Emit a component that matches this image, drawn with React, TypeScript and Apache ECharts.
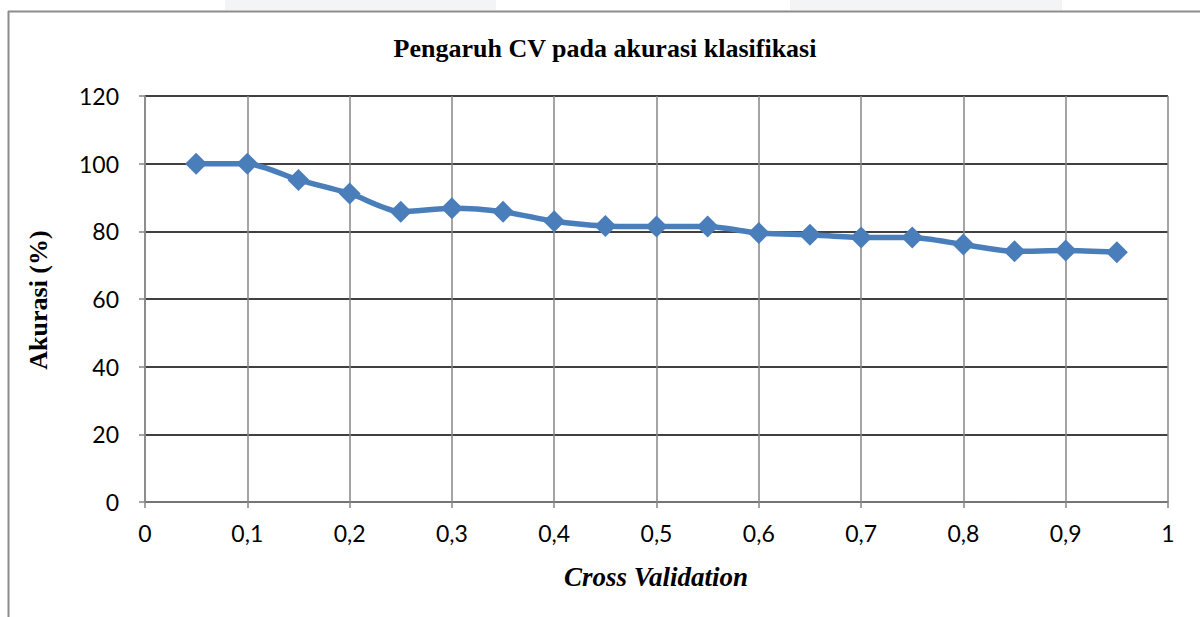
import React, { useEffect, useRef } from "react";
import * as echarts from "echarts";

const cvValues: number[] = [0.05, 0.1, 0.15, 0.2, 0.25, 0.3, 0.35, 0.4, 0.45, 0.5, 0.55, 0.6, 0.65, 0.7, 0.75, 0.8, 0.85, 0.9, 0.95];
const accuracy: number[] = [100, 100, 95.2, 91.2, 85.8, 86.8, 85.8, 83.0, 81.6, 81.4, 81.4, 79.5, 79.0, 78.2, 78.2, 76.1, 74.1, 74.3, 73.8];
const titleText = "Pengaruh CV pada akurasi klasifikasi";
const xName = "Cross Validation";
const yName = "Akurasi (%)";

export default function App() {
  const ref = useRef<HTMLDivElement>(null);
  useEffect(() => {
    document.body.style.margin = "0";
    if (!ref.current) return;
    const chart = echarts.init(ref.current, undefined, { renderer: "svg" });
    const data = cvValues.map((x, i) => [x, accuracy[i]]);
    chart.setOption({
      animation: false,
      backgroundColor: "#ffffff",
      grid: { left: 145, right: 32, top: 96, bottom: 115, containLabel: false },
      xAxis: {
        type: "value",
        min: 0,
        max: 1,
        interval: 0.1,
        axisLine: { show: true, onZero: false, lineStyle: { color: "#868686", width: 1.5 } },
        axisTick: { show: true, length: 6, lineStyle: { color: "#868686", width: 1.5 } },
        axisLabel: {
          margin: 19,
          fontFamily: "Lato, 'Open Sans', sans-serif",
          fontSize: 23,
          color: "#000",
          formatter: (v: number) => {
            const r = Math.round(v * 10) / 10;
            return String(r).replace(".", ",");
          },
        },
        splitLine: { show: true, lineStyle: { color: "#868686", width: 1.5 } },
      },
      yAxis: {
        type: "value",
        min: 0,
        max: 120,
        interval: 20,
        axisLine: { show: true, lineStyle: { color: "#868686", width: 1.5 } },
        axisTick: { show: true, length: 6, lineStyle: { color: "#868686", width: 1.5 } },
        axisLabel: {
          margin: 26,
          fontFamily: "Lato, 'Open Sans', sans-serif",
          fontSize: 23,
          color: "#000",
        },
        splitLine: { show: true, lineStyle: { color: "#000", width: 1.5 } },
      },
      series: [
        {
          type: "line",
          data,
          smooth: 0.25,
          symbol: "diamond",
          symbolSize: 22,
          lineStyle: { color: "#4a7ebb", width: 5.5 },
          itemStyle: { color: "#4a7ebb" },
          z: 5,
        },
      ],
      graphic: [
        { type: "rect", shape: { x: 225, y: 0, width: 271, height: 10 }, style: { fill: "#f3f4f6" }, silent: true },
        { type: "rect", shape: { x: 790, y: 0, width: 272, height: 10 }, style: { fill: "#f3f4f6" }, silent: true },
        { type: "line", shape: { x1: 8, y1: 11.5, x2: 1200, y2: 11.5 }, style: { stroke: "#8c8c8c", lineWidth: 2 }, silent: true },
        { type: "line", shape: { x1: 8.5, y1: 11, x2: 8.5, y2: 617 }, style: { stroke: "#8c8c8c", lineWidth: 2 }, silent: true },
        {
          type: "text",
          x: 605,
          y: 48,
          style: {
            text: titleText,
            fontFamily: "'Liberation Serif', 'Times New Roman', serif",
            fontWeight: "bold",
            fontSize: 26,
            fill: "#000",
            textAlign: "center",
            textVerticalAlign: "middle",
          },
        },
        {
          type: "text",
          x: 656,
          y: 577,
          style: {
            text: xName,
            fontFamily: "'Liberation Serif', 'Times New Roman', serif",
            fontWeight: "bold",
            fontStyle: "italic",
            fontSize: 27,
            fill: "#000",
            textAlign: "center",
            textVerticalAlign: "middle",
          },
        },
        {
          type: "text",
          x: 38,
          y: 300,
          rotation: Math.PI / 2,
          style: {
            text: yName,
            fontFamily: "'Liberation Serif', 'Times New Roman', serif",
            fontWeight: "bold",
            fontSize: 26,
            fill: "#000",
            textAlign: "center",
            textVerticalAlign: "middle",
          },
        },
      ],
    });
    return () => chart.dispose();
  }, []);
  return <div ref={ref} style={{ width: 1200, height: 617 }} />;
}
